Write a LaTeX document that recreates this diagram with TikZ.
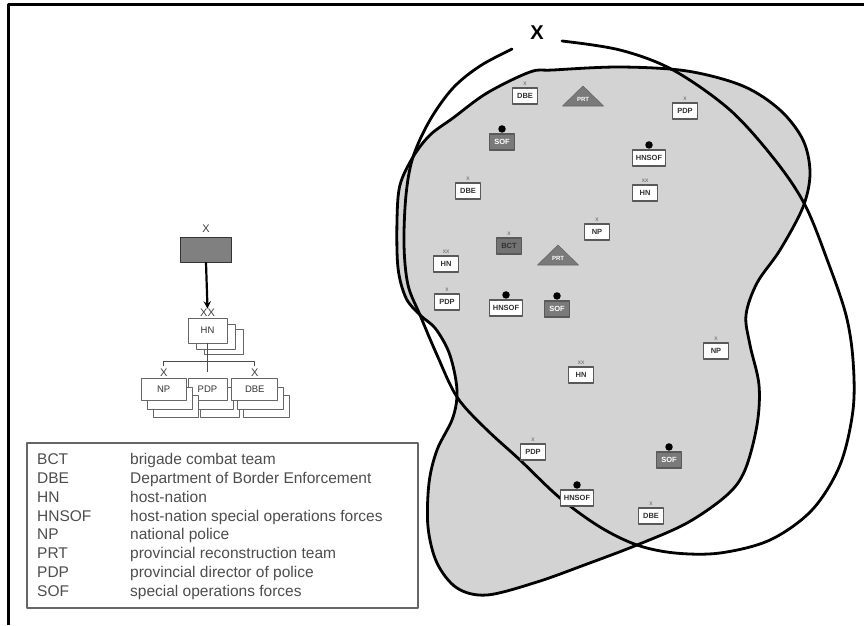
\documentclass[tikz,border=0pt]{standalone}
\usepackage{fontspec}
\setmainfont{Liberation Sans}
\usetikzlibrary{shadows,positioning}
\definecolor{blobgray}{HTML}{D3D3D3}
\definecolor{symgray}{HTML}{7A7A7A}
\definecolor{txtgray}{HTML}{4D4D4D}
\tikzset{
  mapbox/.style={draw=black!65,line width=1.2pt,fill=white,minimum width=25pt,
    minimum height=16pt,inner xsep=3pt,inner ysep=1pt,
    font=\fontsize{7.5}{8}\selectfont\bfseries,text=black!80},
  sofbox/.style={mapbox,fill=symgray,text=white},
  bctbox/.style={mapbox,fill=black!55,text=black!80},
  echtxt/.style={font=\fontsize{6.5}{6.5}\selectfont,text=black!60,inner sep=0.3pt},
  ech/.style={label={[echtxt,label distance=1pt]above:#1}},
  hqdot/.style={label={[circle,fill=black,inner sep=0pt,minimum size=7.5pt,label distance=0.5pt]above:{}}},
  prtfill/.style={fill=symgray,draw=black!60,line width=0.6pt},
  prttxt/.style={font=\fontsize{6}{6}\selectfont\bfseries,text=white,inner sep=0pt},
  orgbox/.style={draw=black!60,fill=white,line width=0.8pt,minimum height=22pt,
    font=\fontsize{9.5}{9.5}\selectfont,text=black!80},
  rowstack/.style={orgbox,
    copy shadow={shadow xshift=12pt,shadow yshift=-17pt,draw=black!60,fill=white},
    copy shadow={shadow xshift=6pt,shadow yshift=-9pt,draw=black!60,fill=white}},
  echorg/.style={font=\fontsize{11}{11}\selectfont,text=black!75,inner sep=0.5pt},
  legtxt/.style={anchor=base west,font=\fontsize{15.5}{16}\selectfont,text=txtgray,inner sep=0pt}
}
\newcommand\prtmark[3]{% name, x, base y
  \filldraw[prtfill] ({#2-20.5},#3) -- ({#2+20.5},#3) -- (#2,{#3-20}) -- cycle;
  \node[prttxt] (#1) at (#2,{#3-7}) {PRT};}
\begin{document}
\begin{tikzpicture}[x=1pt,y=-1pt,>=stealth,line join=round,line cap=round]
  \def\lw{2.8pt}
  \useasboundingbox (0,0) rectangle (864,625);
  \draw[line width=3pt,line cap=butt] (8,625) -- (8,4) -- (864,4);

  % area of operations
  \filldraw[fill=blobgray,line width=\lw] plot[smooth cycle,tension=0.55] coordinates {
    (530,72) (553,70) (620,67) (687,71) (743,86) (780,110) (803,140) (810,173)
    (803,207) (780,250) (757,283) (746,315) (750,345) (759,385) (757,425) (745,470)
    (727,495) (687,523) (637,545) (587,564) (537,582) (487,595) (457,588) (437,563)
    (428,527) (429,483) (437,450) (452,420) (457,397) (455,375) (448,350) (435,328)
    (420,315) (406,298) (398,268) (397,220) (400,185) (413,157) (430,135) (453,118)
    (487,93)};
  \draw[line width=\lw] plot[smooth,tension=0.55] coordinates {
    (512,49) (480,66) (453,88) (430,120) (413,157) (406,195) (404,245) (408,285)
    (420,315) (437,355) (457,397) (485,428) (520,460) (560,498) (600,527) (637,545)
    (675,553) (720,553) (770,540) (812,510) (840,465) (853,410) (853,360) (846,315)
    (828,262) (805,205) (775,160) (730,110) (673,70) (620,50) (562,41)};
  \node[font=\fontsize{20}{20}\selectfont\bfseries] (bde) at (537,33) {X};

  % units in the area
  \node[mapbox,ech=x] (dbe1) at (525,96) {DBE};
  \prtmark{prt1}{583}{106}
  \node[mapbox,ech=x] (pdp1) at (685,111) {PDP};
  \node[sofbox,hqdot] (sof1) at (502,142) {SOF};
  \node[mapbox,hqdot] (hnsof1) at (649,158) {HNSOF};
  \node[mapbox,ech=x] (dbe2) at (468,191) {DBE};
  \node[mapbox,ech=xx] (hn1) at (645,193) {HN};
  \node[mapbox,ech=x] (np1) at (597,232) {NP};
  \node[bctbox,ech=x] (bct) at (509,246) {BCT};
  \prtmark{prt2}{558}{265}
  \node[mapbox,ech=xx] (hn2) at (446,264) {HN};
  \node[mapbox,ech=x] (pdp2) at (447,302) {PDP};
  \node[mapbox,hqdot] (hnsof2) at (506,308) {HNSOF};
  \node[sofbox,hqdot] (sof2) at (557,309) {SOF};
  \node[mapbox,ech=x] (np2) at (716,351) {NP};
  \node[mapbox,ech=xx] (hn3) at (581,375) {HN};
  \node[mapbox,ech=x] (pdp3) at (533,452) {PDP};
  \node[sofbox,hqdot] (sof3) at (669,460) {SOF};
  \node[mapbox,hqdot] (hnsof3) at (577,498) {HNSOF};
  \node[mapbox,ech=x] (dbe3) at (651,516) {DBE};

  % task organization
  \node[draw=black!80,fill=black!50,line width=0.8pt,minimum width=51pt,minimum height=25pt,
    label={[echorg,label distance=4pt]above:X}] (cmd) at (206,250) {};
  \node[orgbox,minimum width=39pt,minimum height=25pt,
    copy shadow={shadow xshift=16pt,shadow yshift=-11pt,draw=black!60,fill=white},
    copy shadow={shadow xshift=8pt,shadow yshift=-6pt,draw=black!60,fill=white},
    label={[echorg,name=hnx]above:XX}] (hn) at (207.5,330.5) {HN};
  \node[rowstack,minimum width=39pt] (pdp) at (207.5,389) {PDP};
  \node[rowstack,minimum width=45pt,left=1pt of pdp,label={[echorg]above:X}] (np) {NP};
  \node[rowstack,minimum width=46pt,right=4pt of pdp,label={[echorg]above:X}] (dbe) {DBE};
  \draw[->,line width=2.2pt] (cmd.south) -- (hnx.north);
  \draw[black!70,line width=0.9pt] (hn.south) -- ([yshift=6pt]pdp.north);
  \draw[black!70,line width=0.9pt] ([yshift=12pt]np.north) |- ([yshift=16pt]pdp.north)
    -| ([yshift=12pt]dbe.north);

  % legend
  \draw[draw=black!60,line width=1.2pt] (27,443) rectangle (418,608);
  \foreach \ab/\txt [count=\i from 0] in {BCT/brigade combat team,
      DBE/Department of Border Enforcement, HN/host-nation,
      HNSOF/host-nation special operations forces, NP/national police,
      PRT/provincial reconstruction team, PDP/provincial director of police,
      SOF/special operations forces}{
    \node[legtxt] (ab\i) at (37,464.3+18.9*\i) {\ab};
    \node[legtxt] (tx\i) at (130,464.3+18.9*\i) {\txt};
  }
\end{tikzpicture}
\end{document}
